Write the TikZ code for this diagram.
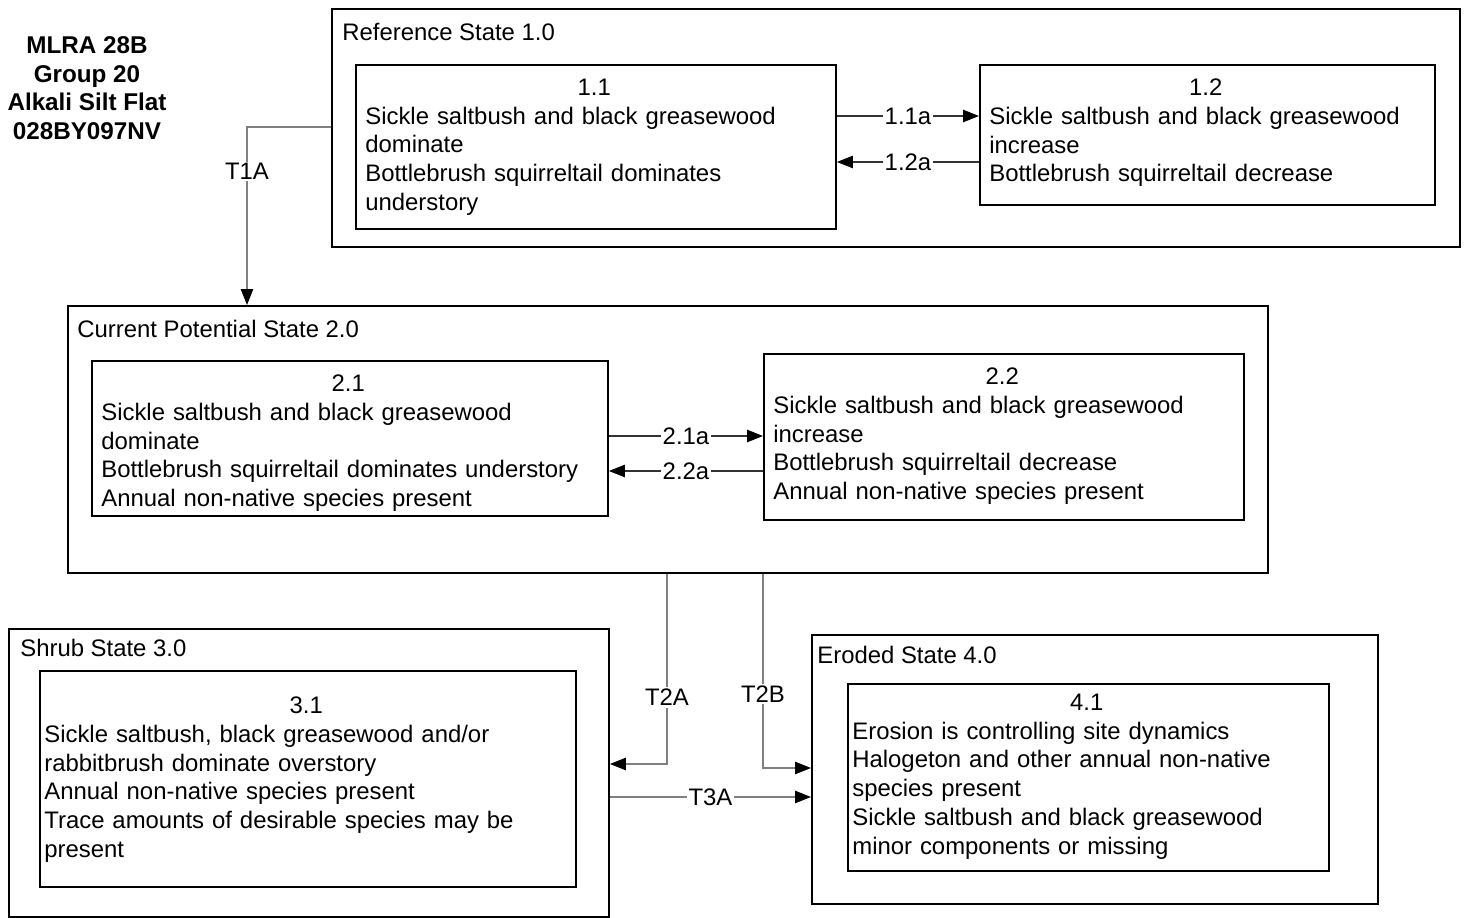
\documentclass[tikz,border=0pt]{standalone}
\usepackage{fontspec}
\setmainfont{Liberation Sans}
\usetikzlibrary{arrows.meta,calc,positioning}
\tikzset{state box/.style 2 args={rectangle,draw,line width=1.1pt,anchor=north west,inner sep=0pt,minimum width=#1*0.02cm,minimum height=#2*0.02cm},
         phase box/.style 2 args={state box={#1}{#2}},
         box text/.style={anchor=north west,inner sep=0pt,align=left,font=\fontsize{13.6}{16.4}\selectfont},
         state label/.style={anchor=north west,inner sep=0pt,font=\fontsize{13.6}{16.4}\selectfont},
         title/.style={anchor=north,inner sep=0pt,align=center,font=\fontsize{13.8}{16.2}\selectfont\bfseries},
         edge label/.style={rectangle,fill=white,inner sep=1pt,font=\fontsize{13.6}{16.4}\selectfont},
         pathway/.style={draw=black!80,line width=0.6pt,-{Triangle[length=9pt,width=7pt,color=black]}},
         trans/.style={draw=black!50,line width=0.6pt,-{Triangle[length=9pt,width=7pt,color=black]}}
}
\begin{document}
\begin{tikzpicture}[x=0.02cm,y=-0.02cm]
\useasboundingbox (0,0) rectangle (1465,918);
\node[title] (title) at (87,36.5) {MLRA 28B\\Group 20\\Alkali Silt Flat\\028BY097NV};
% states
\node[state box={1128}{238}] (st1) at (331,8) {};
\node[state box={1200}{267}] (st2) at (67,305) {};
\node[state box={600}{288}] (st3) at (8,628) {};
\node[state box={566}{269}] (st4) at (811,634) {};
\node[state label] (lb1) at ($(st1.north west)+(11,14.5)$) {Reference State 1.0};
\node[state label] (lb2) at ($(st2.north west)+(10,14.5)$) {Current Potential State 2.0};
\node[state label] (lb3) at ($(st3.north west)+(12,10.5)$) {Shrub State 3.0};
\node[state label] (lb4) at ($(st4.north west)+(6,11.5)$) {Eroded State 4.0};
% community phases
\node[phase box={480}{164}] (p11) at (355,64) {};
\node[phase box={455}{140}] (p12) at (979,64) {};
\node[phase box={516}{155}] (p21) at (91,360) {};
\node[phase box={480}{166}] (p22) at (763,353) {};
\node[phase box={536}{216}] (p31) at (39,670) {};
\node[phase box={481}{187}] (p41) at (847,683) {};
\node[box text,text width=9.16cm] (t11) at ($(p11.north west)+(10,14.5)$) {{\centering 1.1\par}Sickle saltbush and black greasewood\\dominate\\Bottlebrush squirreltail dominates\\understory};
\node[box text,text width=8.66cm] (t12) at ($(p12.north west)+(10,14.5)$) {{\centering 1.2\par}Sickle saltbush and black greasewood\\increase\\Bottlebrush squirreltail decrease};
\node[box text,text width=9.88cm] (t21) at ($(p21.north west)+(10,14.5)$) {{\centering 2.1\par}Sickle saltbush and black greasewood\\dominate\\Bottlebrush squirreltail dominates understory\\Annual non-native species present};
\node[box text,text width=9.16cm] (t22) at ($(p22.north west)+(10,14.5)$) {{\centering 2.2\par}Sickle saltbush and black greasewood\\increase\\Bottlebrush squirreltail decrease\\Annual non-native species present};
\node[box text,text width=10.48cm] (t31) at ($(p31.north west)+(5,26.5)$) {{\centering 3.1\par}Sickle saltbush, black greasewood and/or\\rabbitbrush dominate overstory\\Annual non-native species present\\Trace amounts of desirable species may be\\present};
\node[box text,text width=9.38cm] (t41) at ($(p41.north west)+(5,10.5)$) {{\centering 4.1\par}Erosion is controlling site dynamics\\Halogeton and other annual non-native\\species present\\Sickle saltbush and black greasewood\\minor components or missing};
% community pathways
\coordinate (y11a) at (0,116);
\coordinate (y12a) at (0,162);
\coordinate (y21a) at (0,436);
\coordinate (y22a) at (0,471);
\draw[pathway] (p11.east |- y11a) -- node[edge label]{1.1a} (p12.west |- y11a);
\draw[pathway] (p12.west |- y12a) -- node[edge label]{1.2a} (p11.east |- y12a);
\draw[pathway] (p21.east |- y21a) -- node[edge label]{2.1a} (p22.west |- y21a);
\draw[pathway] (p22.west |- y22a) -- node[edge label]{2.2a} (p21.east |- y22a);
% transitions
\coordinate (t1a) at (247,127);
\coordinate (t2a) at (667,764);
\coordinate (t2b) at (763,768);
\coordinate (t3a) at (0,797);
\draw[trans] (st1.west |- t1a) -| node[edge label,pos=0.625]{T1A} (st2.north -| t1a);
\draw[trans] (st2.south -| t2a) |- node[edge label,pos=0.325]{T2A} (st3.east |- t2a);
\draw[trans] (st2.south -| t2b) |- node[edge label,pos=0.31]{T2B} (st4.west |- t2b);
\draw[trans] (st3.east |- t3a) -- node[edge label]{T3A} (st4.west |- t3a);
\end{tikzpicture}
\end{document}
